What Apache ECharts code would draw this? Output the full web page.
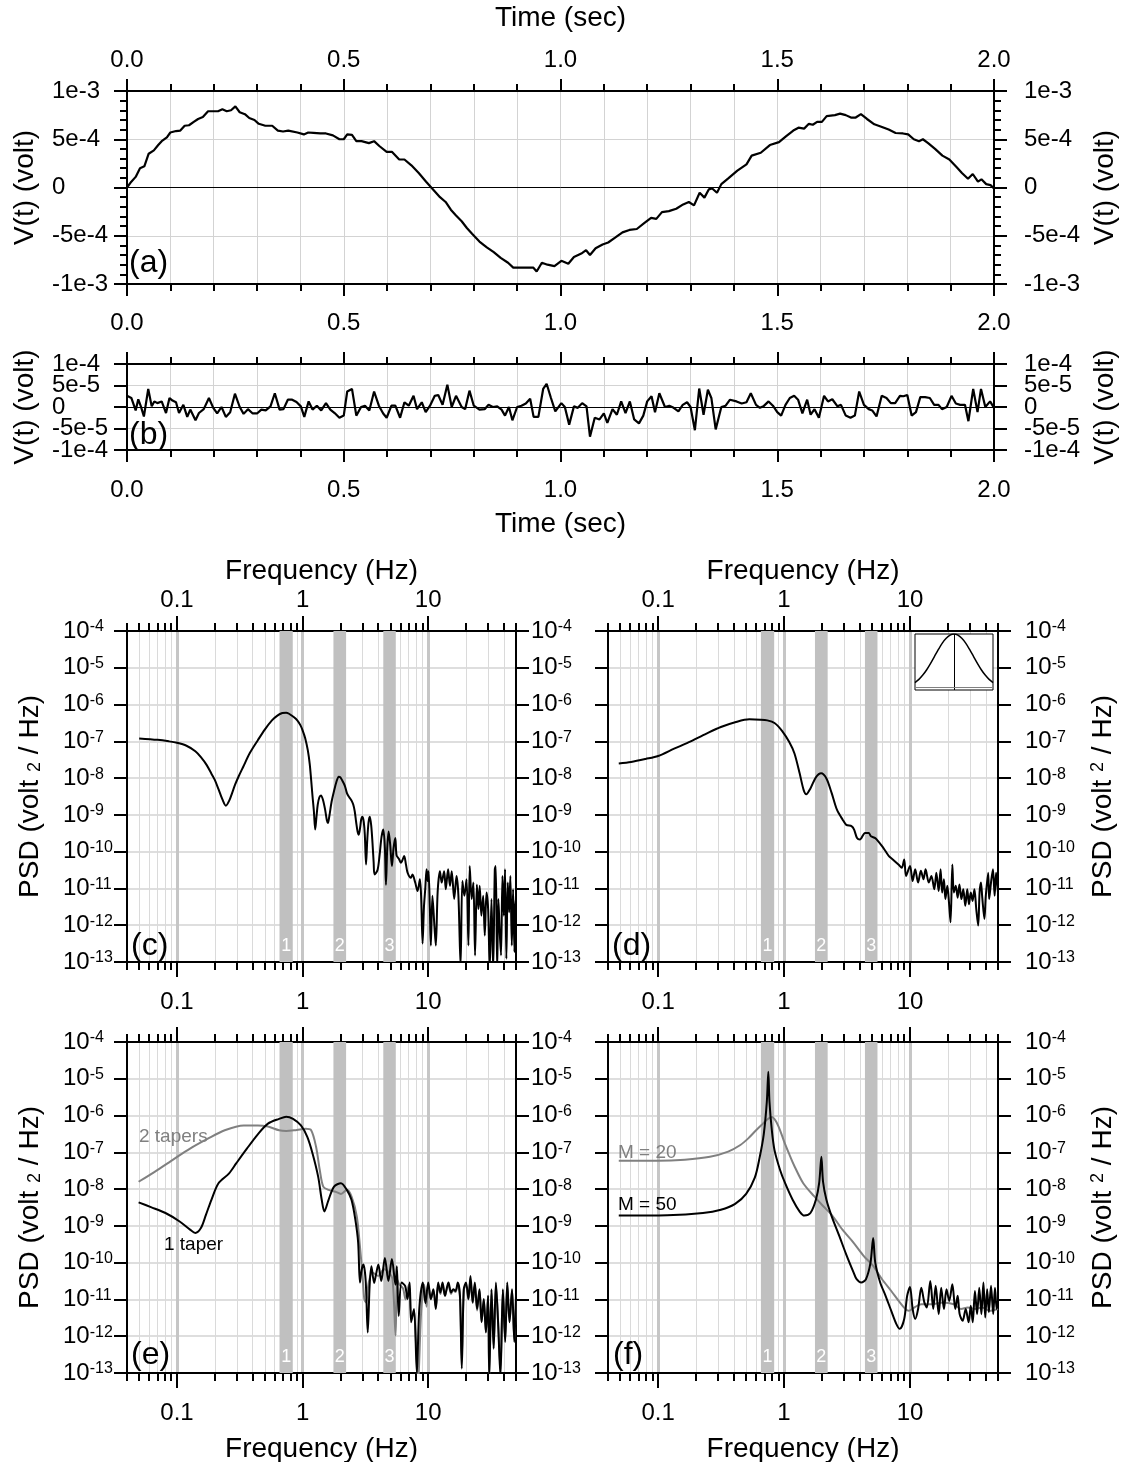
<!DOCTYPE html>
<html>
<head>
<meta charset="utf-8">
<script src="https://cdn.jsdelivr.net/npm/echarts@6/dist/echarts.min.js"></script>
<style>
  html, body { margin: 0; padding: 0; background: #fff; }
  #chart { width: 1122px; height: 1462px; }
</style>
</head>
<body>
<div id="chart"></div>
<script>
// ---------------------------------------------------------------
// Data
// ---------------------------------------------------------------

// (a) signal: [time s, voltage in units of 1e-4 V]
const V_UNIT = 1e-4;
const signalA = [
  [0,0],[0.01,0.6],[0.02,1.1],[0.03,2.0],[0.04,2.2],[0.05,3.5],[0.062,3.85],[0.072,4.4],[0.08,4.8],[0.092,5.2],
  [0.10,5.7],[0.113,5.85],[0.123,5.9],[0.133,6.4],[0.143,6.45],[0.154,6.8],[0.164,7.1],[0.175,7.3],[0.187,7.9],[0.2,7.9],
  [0.21,7.9],[0.22,8.1],[0.23,7.9],[0.24,8.0],[0.25,8.4],[0.26,7.8],[0.272,7.6],[0.282,7.2],[0.294,7.0],[0.304,6.6],
  [0.319,6.4],[0.335,6.4],[0.348,5.9],[0.36,5.8],[0.372,5.9],[0.393,5.7],[0.408,5.5],[0.418,5.7],[0.43,5.66],[0.446,5.6],
  [0.459,5.6],[0.475,5.4],[0.49,5.0],[0.5,5.0],[0.508,5.5],[0.519,5.45],[0.529,4.8],[0.541,4.8],[0.558,4.6],[0.57,4.8],
  [0.582,4.3],[0.599,3.7],[0.611,3.7],[0.628,2.9],[0.64,2.9],[0.656,2.3],[0.673,1.5],[0.69,0.6],[0.706,-0.2],[0.722,-1.0],
  [0.735,-1.5],[0.747,-2.3],[0.759,-2.9],[0.772,-3.5],[0.784,-4.2],[0.796,-4.8],[0.813,-5.6],[0.83,-6.2],[0.846,-6.7],[0.862,-7.3],
  [0.879,-7.8],[0.891,-8.3],[0.908,-8.3],[0.924,-8.3],[0.937,-8.3],[0.945,-8.7],[0.957,-7.8],[0.97,-8.0],[0.986,-8.15],[1.002,-7.6],
  [1.018,-7.9],[1.031,-7.2],[1.048,-6.85],[1.059,-6.5],[1.068,-7.0],[1.081,-6.3],[1.097,-5.9],[1.11,-5.7],[1.126,-5.2],[1.143,-4.65],
  [1.159,-4.4],[1.176,-4.3],[1.193,-3.7],[1.209,-3.15],[1.221,-3.25],[1.234,-2.55],[1.25,-2.45],[1.267,-2.2],[1.283,-1.75],[1.296,-1.5],
  [1.308,-1.85],[1.321,-0.55],[1.332,-1.05],[1.342,-0.2],[1.35,-0.1],[1.361,-0.55],[1.371,0.35],[1.387,0.95],[1.408,1.75],[1.429,2.4],
  [1.441,3.3],[1.462,3.6],[1.483,4.4],[1.504,4.7],[1.52,5.3],[1.537,5.9],[1.549,6.2],[1.562,6.1],[1.573,6.6],[1.582,6.5],
  [1.592,6.8],[1.603,6.8],[1.614,7.4],[1.633,7.5],[1.645,7.65],[1.658,7.5],[1.67,7.25],[1.681,7.25],[1.693,7.6],[1.707,7.1],
  [1.724,6.55],[1.74,6.3],[1.757,6.0],[1.773,5.65],[1.79,5.6],[1.802,5.5],[1.815,5.0],[1.827,4.8],[1.836,5.0],[1.848,4.6],
  [1.864,4.0],[1.881,3.3],[1.897,2.9],[1.914,2.1],[1.926,1.5],[1.94,0.9],[1.951,1.4],[1.963,0.6],[1.971,0.85],[1.982,0.35],
  [1.992,0.25],[2.0,-0.1]
];

// (b) noise: [time s, voltage in units of 1e-4 V]
const noiseB = [
  [0,0.26],[0.01,0.21],[0.014,0.17],[0.02,-0.08],[0.026,0.18],[0.032,0.015],[0.039,-0.22],[0.049,0.42],[0.057,0.015],[0.063,0.13],
  [0.07,0.09],[0.08,0.13],[0.09,-0.14],[0.098,0.21],[0.105,0.15],[0.113,0.11],[0.12,-0.14],[0.13,0.05],[0.139,-0.23],[0.146,-0.06],
  [0.158,-0.31],[0.166,-0.14],[0.177,-0.05],[0.189,0.21],[0.199,-0.02],[0.208,-0.15],[0.218,0],[0.228,-0.23],[0.238,-0.12],[0.249,0.31],
  [0.26,0],[0.269,-0.16],[0.279,-0.05],[0.29,-0.15],[0.3,-0.15],[0.31,-0.06],[0.32,-0.08],[0.331,0.015],[0.341,0.32],[0.352,-0.06],
  [0.361,-0.05],[0.371,0.17],[0.381,0.17],[0.391,0.115],[0.401,0.015],[0.409,-0.23],[0.419,0.13],[0.428,-0.06],[0.438,0.03],[0.448,-0.08],
  [0.459,0.09],[0.469,-0.06],[0.479,-0.14],[0.49,-0.25],[0.5,-0.2],[0.508,0.36],[0.519,0.42],[0.529,-0.2],[0.54,0],[0.549,0.03],
  [0.559,-0.08],[0.57,0.36],[0.581,0.03],[0.591,-0.15],[0.599,-0.25],[0.61,0.03],[0.619,0.03],[0.63,-0.25],[0.64,0.11],[0.65,0.03],
  [0.661,0.26],[0.669,-0.05],[0.68,0.11],[0.689,-0.12],[0.699,0.03],[0.71,0.26],[0.718,0.28],[0.728,0.05],[0.739,0.52],[0.749,0],
  [0.759,0.26],[0.772,0],[0.78,-0.05],[0.79,0.38],[0.8,0.03],[0.813,-0.06],[0.825,-0.05],[0.834,0.05],[0.844,0],[0.854,0.015],
  [0.864,-0.06],[0.872,-0.2],[0.881,0],[0.889,-0.31],[0.9,0],[0.91,0.03],[0.92,0.08],[0.93,0.19],[0.938,-0.23],[0.949,-0.23],
  [0.96,0.42],[0.968,0.54],[0.978,0.21],[0.988,-0.1],[1.002,0.09],[1.01,0],[1.02,-0.41],[1.031,0.015],[1.04,-0.02],[1.05,0.09],
  [1.06,0.015],[1.068,-0.69],[1.079,-0.25],[1.09,-0.29],[1.1,-0.15],[1.108,-0.37],[1.12,-0.05],[1.13,-0.18],[1.14,0.13],[1.15,-0.14],
  [1.16,0.13],[1.17,-0.29],[1.181,-0.38],[1.191,-0.2],[1.2,0.13],[1.21,0.25],[1.218,-0.12],[1.228,0.32],[1.241,0],[1.251,0.03],
  [1.261,-0.02],[1.272,-0.1],[1.282,0.05],[1.292,0.11],[1.3,0],[1.31,-0.54],[1.32,0.43],[1.33,-0.18],[1.34,0.4],[1.348,0.21],
  [1.358,-0.52],[1.371,0],[1.381,0.03],[1.391,0.17],[1.406,0.13],[1.418,0.08],[1.429,0.11],[1.439,0.32],[1.451,0.05],[1.46,-0.02],
  [1.468,0.015],[1.48,0.13],[1.49,0.03],[1.5,-0.12],[1.509,-0.2],[1.519,0.05],[1.529,0.21],[1.539,0.26],[1.548,0.17],[1.558,-0.15],
  [1.569,0.17],[1.577,-0.18],[1.586,-0.05],[1.596,-0.25],[1.608,0.26],[1.617,0.13],[1.627,0.18],[1.639,0.015],[1.647,0.05],[1.658,-0.2],
  [1.669,-0.25],[1.679,-0.2],[1.689,0.36],[1.7,0.05],[1.711,-0.05],[1.719,-0.08],[1.729,-0.22],[1.741,0.26],[1.752,0.21],[1.762,0.09],
  [1.772,0.09],[1.783,0.26],[1.791,0.25],[1.8,0.28],[1.81,-0.2],[1.82,-0.12],[1.83,0.23],[1.841,0.23],[1.852,0.21],[1.862,0.05],
  [1.872,0.05],[1.88,-0.05],[1.891,0],[1.902,0.26],[1.912,0.08],[1.922,0.05],[1.933,0.05],[1.941,-0.33],[1.952,0.42],[1.962,-0.12],
  [1.97,0.42],[1.98,0],[1.991,0.13],[2.0,-0.02]
];

// Power spectral densities: [frequency Hz, log10 PSD (volt^2/Hz)]
// (c) periodogram
const psdC = [
  [0.05,-6.92],[0.07,-6.96],[0.086,-7.0],[0.1,-7.04],[0.119,-7.12],[0.14,-7.27],[0.155,-7.43],[0.172,-7.64],[0.188,-7.88],[0.2,-8.05],
  [0.214,-8.30],[0.23,-8.58],[0.245,-8.75],[0.26,-8.62],[0.275,-8.40],[0.29,-8.18],[0.31,-7.95],[0.337,-7.69],[0.38,-7.32],[0.44,-6.97],
  [0.5,-6.68],[0.57,-6.43],[0.63,-6.30],[0.69,-6.23],[0.74,-6.22],[0.78,-6.25],[0.85,-6.34],[0.907,-6.43],[0.96,-6.56],[1.0,-6.70],
  [1.05,-6.92],[1.1,-7.24],[1.14,-7.62],[1.17,-8.05],[1.2,-8.50],[1.23,-8.90],[1.26,-9.40],[1.29,-9.05],[1.32,-8.72],[1.36,-8.52],
  [1.40,-8.47],[1.45,-8.58],[1.51,-8.85],[1.56,-9.15],[1.59,-9.22],[1.63,-9.05],[1.7,-8.65],[1.78,-8.35],[1.86,-8.10],[1.94,-7.96],
  [2.0,-7.98],[2.08,-8.08],[2.17,-8.21],[2.25,-8.40],[2.33,-8.50],[2.4,-8.56],[2.46,-8.62],[2.53,-8.72],[2.6,-8.90],[2.67,-9.20],
  [2.74,-9.45],[2.8,-9.54],[2.87,-9.35],[2.93,-9.12],[3.0,-9.05],[3.07,-9.2],[3.13,-9.55],[3.2,-10.35],[3.27,-9.7],[3.35,-9.2],
  [3.43,-9.05],[3.52,-9.3],[3.6,-9.75],[3.68,-10.3],[3.74,-10.62],[3.95,-10.5],[4.1,-10.1],[4.25,-9.6],[4.39,-9.40],[4.52,-9.9],
  [4.61,-10.9],[4.72,-9.9],[4.84,-9.45],[4.98,-9.8],[5.14,-10.39],[5.3,-9.9],[5.47,-9.63],[5.6,-10.1],[5.88,-10.21],[6.05,-10.3],
  [6.18,-10.26],[6.44,-10.12],[6.65,-10.35],[6.85,-10.57],[7.28,-10.71],[7.5,-10.62],[7.88,-10.84],[8.23,-11.07],[8.59,-10.75],[8.8,-11.3],
  [9.02,-12.50],[9.25,-11.5],[9.47,-11.02],[9.70,-10.48],[9.9,-10.8],[10.06,-10.53],[10.3,-11.5],[10.5,-12.55],[10.8,-11.20],[11.2,-12.01],
  [11.5,-12.55],[11.9,-11.07],[12.4,-10.53],[12.8,-10.84],[13.4,-10.53],[13.8,-11.02],[14.4,-10.48],[14.9,-10.93],[15.4,-10.53],[16.1,-11.29],
  [16.8,-10.66],[17.4,-11.20],[18.1,-13.1],[18.7,-10.80],[19.4,-11.20],[20.2,-10.75],[20.9,-12.55],[21.4,-10.39],[22.2,-11.29],[22.9,-10.84],
  [23.6,-12.82],[24.4,-10.89],[25.1,-11.56],[25.7,-10.93],[26.5,-11.74],[27.4,-11.20],[28.2,-12.28],[29.1,-11.11],[30.0,-11.56],[30.9,-13.2],
  [31.9,-11.29],[32.9,-13.2],[33.9,-10.48],[34.5,-10.39],[35.4,-13.2],[36.2,-11.29],[37.1,-12.19],[38.0,-12.82],[39.0,-10.66],[40.0,-11.74],
  [40.9,-10.48],[41.9,-12.91],[43.0,-10.84],[44.1,-11.65],[45.1,-10.66],[46.3,-12.55],[47.4,-11.02],[48.6,-12.73],[49.2,-11.56],[50,-11.3]
];

// (d) tapered periodogram
const psdD = [
  [0.0487,-7.60],[0.061,-7.56],[0.0796,-7.48],[0.1,-7.40],[0.134,-7.20],[0.174,-7.03],[0.242,-6.79],[0.315,-6.61],[0.409,-6.48],[0.53,-6.40],
  [0.65,-6.41],[0.736,-6.43],[0.84,-6.50],[0.967,-6.72],[1.10,-7.02],[1.21,-7.33],[1.33,-7.87],[1.43,-8.32],[1.50,-8.44],[1.62,-8.28],
  [1.79,-7.98],[1.97,-7.87],[2.17,-8.01],[2.39,-8.41],[2.63,-8.86],[2.92,-9.13],[3.12,-9.27],[3.45,-9.31],[3.6,-9.40],[3.8,-9.63],
  [4.0,-9.67],[4.4,-9.49],[4.7,-9.49],[4.9,-9.58],[5.3,-9.63],[5.6,-9.72],[6.0,-9.85],[6.4,-9.99],[6.8,-10.12],[7.3,-10.21],
  [8.1,-10.35],[8.6,-10.44],[9.0,-10.21],[9.3,-10.66],[10,-10.39],[10.5,-10.80],[11.0,-10.48],[11.6,-10.84],[12.2,-10.52],[12.8,-10.75],
  [13.3,-10.48],[14.1,-10.84],[14.8,-10.66],[15.6,-11.02],[16.2,-10.57],[16.9,-11.07],[17.5,-10.48],[18.0,-11.11],[18.6,-10.75],[19.1,-11.29],
  [19.8,-10.93],[20.4,-11.38],[21.0,-11.92],[21.7,-10.35],[22.3,-11.11],[23.1,-10.93],[23.9,-11.25],[24.7,-10.89],[25.6,-11.29],[26.5,-11.02],
  [27.5,-11.47],[28.5,-11.02],[29.4,-11.43],[30.4,-11.11],[31.4,-11.34],[32.5,-11.02],[33.6,-11.56],[34.8,-12.01],[35.7,-11.11],[36.6,-10.84],
  [37.5,-11.25],[39.0,-11.83],[40.0,-11.20],[41.8,-10.57],[42.5,-11.29],[44.0,-10.84],[45.6,-10.48],[47.0,-11.20],[48.3,-10.57],[50,-11.11]
];

// (e) multitaper estimates: 1 taper (black) and 2 tapers (grey)
const psdE1 = [
  [0.0495,-8.36],[0.062,-8.49],[0.081,-8.65],[0.105,-8.88],[0.127,-9.10],[0.14,-9.19],[0.155,-9.06],[0.17,-8.70],[0.188,-8.29],[0.214,-7.84],
  [0.26,-7.57],[0.296,-7.30],[0.36,-6.90],[0.44,-6.51],[0.53,-6.22],[0.65,-6.09],[0.74,-6.03],[0.84,-6.09],[0.97,-6.27],[1.09,-6.58],
  [1.2,-7.03],[1.33,-7.66],[1.42,-8.29],[1.49,-8.61],[1.61,-8.29],[1.78,-7.93],[2.02,-7.84],[2.25,-8.02],[2.45,-8.29],[2.63,-8.83],
  [2.77,-9.46],[2.86,-10.54],[2.95,-10.2],[3.05,-10.05],[3.18,-10.5],[3.30,-11.9],[3.42,-10.6],[3.53,-10.1],[3.71,-10.55],[3.85,-10.3],
  [4.01,-10.05],[4.23,-10.5],[4.52,-9.87],[4.82,-10.5],[5.14,-9.9],[5.49,-10.6],[5.63,-10.1],[5.82,-11.45],[6.13,-10.54],[6.55,-10.63],
  [6.85,-10.99],[7.12,-10.54],[7.31,-11.62],[7.71,-11.26],[8.12,-13.0],[8.49,-11.26],[9.07,-10.54],[9.5,-11.1],[10,-10.54],[10.5,-10.99],
  [11.0,-10.72],[11.5,-11.26],[12.0,-10.54],[12.5,-10.81],[13.0,-10.54],[13.6,-10.90],[14.0,-10.72],[14.5,-10.54],[15.2,-10.81],[15.8,-10.72],
  [16.5,-10.77],[17.2,-10.54],[17.9,-10.90],[18.5,-12.88],[19.2,-10.72],[20.0,-10.54],[20.9,-10.99],[21.7,-10.36],[22.6,-11.08],[23.5,-10.54],
  [24.5,-11.26],[25.6,-10.72],[26.6,-11.62],[27.7,-10.99],[28.8,-11.89],[30,-10.90],[30.6,-13.1],[31.9,-10.72],[33.2,-12.34],[34.6,-10.54],
  [36.0,-11.62],[37.6,-13.1],[39.3,-10.72],[41,-12.16],[42.6,-10.54],[44.4,-11.62],[46.5,-10.72],[48.5,-12.16],[50,-10.9]
];
const psdE2 = [
  [0.0495,-7.80],[0.0664,-7.53],[0.092,-7.21],[0.127,-6.90],[0.176,-6.63],[0.24,-6.40],[0.34,-6.27],[0.44,-6.27],[0.53,-6.30],[0.65,-6.40],
  [0.74,-6.42],[0.9,-6.39],[1.06,-6.36],[1.17,-6.40],[1.28,-6.85],[1.37,-7.48],[1.46,-7.93],[1.61,-8.02],[1.83,-8.07],[2.02,-8.13],
  [2.25,-8.02],[2.45,-8.20],[2.7,-8.74],[2.86,-9.55],[3.0,-10.36],[3.1,-10.99],[3.2,-11.08],[3.36,-10.54],[3.6,-10.27],[4.0,-10.36],
  [4.45,-10.18],[4.87,-10.27],[5.2,-10.45],[5.5,-11.98],[5.65,-10.45],[5.9,-10.6],[6.3,-10.7],[6.6,-11.0],[7.0,-10.6],[7.4,-11.5],
  [7.7,-11.3],[7.97,-12.1],[8.3,-13.2],[8.8,-11.3],[9.3,-10.6],[9.7,-11.2],[10,-10.6],[10.5,-11.0],[11.0,-10.75],[11.5,-11.2],
  [12.0,-10.6],[12.5,-10.85],[13.0,-10.6],[13.6,-10.9],[14.0,-10.75],[14.5,-10.6],[15.2,-10.85],[15.8,-10.75],[16.5,-10.8],[17.2,-10.6],
  [17.9,-10.95],[18.5,-12.6],[19.2,-10.75],[20.0,-10.6],[20.9,-11.0],[21.7,-10.45],[22.6,-11.1],[23.5,-10.6],[24.5,-11.3],[25.6,-10.75],
  [26.6,-11.6],[27.7,-11.0],[28.8,-11.9],[30,-10.9],[30.6,-13.2],[31.9,-10.75],[33.2,-12.3],[34.6,-10.6],[36.0,-11.6],[37.6,-12.9],
  [39.3,-10.75],[41,-12.1],[42.6,-10.6],[44.4,-11.6],[46.5,-10.75],[48.5,-12.1],[50,-11.0]
];

// (f) autoregressive estimates of order M = 20 (grey) and M = 50 (black)
const psdF20 = [
  [0.0487,-7.23],[0.1,-7.23],[0.163,-7.20],[0.258,-7.12],[0.36,-6.98],[0.45,-6.80],[0.52,-6.62],[0.6,-6.40],[0.68,-6.22],[0.74,-6.10],
  [0.8,-6.04],[0.86,-6.15],[0.93,-6.40],[1.0,-6.70],[1.1,-7.05],[1.2,-7.35],[1.42,-7.84],[1.74,-8.20],[2.04,-8.46],[2.39,-8.70],
  [2.92,-9.11],[3.57,-9.46],[4.3,-9.82],[5.1,-10.09],[6.0,-10.45],[7.1,-10.77],[8.3,-11.08],[9.2,-11.26],[9.8,-11.31],[10.8,-11.22],
  [12.3,-11.13],[15.0,-11.13],[18.3,-11.08],[22.3,-11.13],[25.4,-11.26],[28.8,-11.22],[32.8,-11.26],[37.4,-11.22],[42.6,-11.31],[50,-11.26]
];
const psdF50 = [
  [0.0487,-8.72],[0.118,-8.71],[0.227,-8.65],[0.315,-8.56],[0.409,-8.40],[0.5,-8.13],[0.587,-7.68],[0.64,-7.14],[0.69,-6.51],[0.73,-5.62],
  [0.75,-4.81],[0.766,-5.62],[0.8,-6.40],[0.84,-6.94],[0.93,-7.48],[1.02,-7.84],[1.17,-8.29],[1.33,-8.61],[1.45,-8.72],[1.62,-8.65],
  [1.79,-8.29],[1.9,-7.84],[1.98,-7.12],[2.04,-7.80],[2.17,-8.29],[2.39,-8.74],[2.75,-9.28],[3.12,-9.78],[3.57,-10.27],[3.77,-10.45],
  [4.1,-10.54],[4.47,-10.45],[4.86,-10.00],[5.1,-9.33],[5.3,-10.00],[5.8,-10.54],[6.4,-10.90],[7.1,-11.31],[7.8,-11.67],[8.3,-11.80],
  [9.0,-11.53],[9.5,-10.90],[10.0,-10.66],[10.5,-11.26],[11.0,-11.53],[11.6,-11.26],[12.3,-10.68],[13.0,-11.08],[13.6,-11.22],[14.5,-10.50],
  [15.3,-11.26],[16.0,-10.63],[16.9,-11.40],[17.7,-10.68],[18.6,-11.26],[19.5,-10.72],[20.5,-11.04],[21.7,-10.59],[22.9,-11.26],[23.9,-10.90],
  [24.8,-11.40],[26.2,-11.58],[27.7,-11.26],[29.2,-11.62],[30.4,-11.17],[31.5,-11.62],[32.8,-10.77],[34.1,-11.40],[35.5,-10.68],[36.9,-11.40],
  [38.3,-10.54],[39.6,-11.49],[41.0,-10.72],[42.3,-11.35],[44.0,-10.63],[45.8,-11.40],[47.3,-10.68],[48.8,-11.26],[50,-11.04]
];

// Taper window shown in the inset of (d): [normalised time, weight]
const taperX = [0,0.05,0.1,0.15,0.2,0.25,0.3,0.35,0.4,0.45,0.5,0.55,0.6,0.65,0.7,0.75,0.8,0.85,0.9,0.95,1];
const taperW = [0.09,0.15,0.23,0.33,0.45,0.58,0.71,0.83,0.92,0.98,1.0,0.98,0.92,0.83,0.71,0.58,0.45,0.33,0.23,0.15,0.09];

// Highlighted frequency bands [from Hz, to Hz, tag]
const bands = [[0.655,0.835,'1'],[1.76,2.22,'2'],[4.39,5.52,'3']];

// Axis ticks
const F_MIN = 0.04, F_MAX = 50;
const freqDecades = [0.1, 1, 10];
const freqDecadeLabels = ['0.1', '1', '10'];
const freqMinor = [0.04,0.05,0.06,0.07,0.08,0.09,0.2,0.3,0.4,0.5,0.6,0.7,0.8,0.9,2,3,4,5,6,7,8,9,20,30,40,50];
// voltage tick labels, split into two interleaved sets so tightly packed labels all stay visible
const voltTicksA = [-1e-3, 0, 1e-3];
const voltTicksAHalf = [-5e-4, 5e-4];
const voltTicksB = [-1e-4, 0, 1e-4];
const voltTicksBHalf = [-5e-5, 5e-5];

// ---------------------------------------------------------------
// Styling helpers
// ---------------------------------------------------------------
const FONT = "'Liberation Sans', Arial, Helvetica, sans-serif";
const GREY = '#808080';
const GRID_T = '#d3d3d3';
const GRID_MINOR = '#dadada';
const GRID_MAJOR = '#c6c6c6';
const GRID_H = '#d3d3d3';
const BAND = '#c0c0c0';

const AXIS_LINE = { show: true, onZero: false, lineStyle: { color: '#000', width: 2 } };
const TICK = { color: '#000', width: 2 };
const LABEL = { color: '#000', fontFamily: FONT, fontSize: 24, hideOverlap: false,
  showMinLabel: true, showMaxLabel: true };
const NAME = { color: '#000', fontFamily: FONT, fontSize: 28 };

function sciLabel(v) {
  if (Math.abs(v) < 1e-12) return '0';
  return Number(v.toPrecision(3)).toExponential();
}
function powLabel(v) {
  const e = Math.round(Math.log10(v));
  return '{b|10}{s|' + e + '}';
}
const POW_RICH = {
  b: { fontFamily: FONT, fontSize: 24, color: '#000' },
  s: { fontFamily: FONT, fontSize: 16, color: '#000', verticalAlign: 'top' }
};
function psdName(supAlign) {
  return {
    text: '{a|PSD (volt }{s|2}{a| / Hz)}',
    style: {
      color: '#000', fontFamily: FONT, fontSize: 28,
      rich: {
        a: { fontFamily: FONT, fontSize: 28, color: '#000' },
        s: { fontFamily: FONT, fontSize: 18, color: '#000', verticalAlign: supAlign }
      }
    }
  };
}

const grids = [], xAxes = [], yAxes = [], series = [];
function addGrid(g) {
  grids.push(Object.assign({ show: false, containLabel: false, outerBoundsMode: 'none' }, g));
  return grids.length - 1;
}

// Time-domain panel: value axes on all four sides
function timePanel(gridIndex, o) {
  let xMain = null;
  ['bottom', 'top'].forEach(pos => {
    xAxes.push({
      type: 'value', gridIndex, position: pos, min: 0, max: 2, interval: 0.5,
      axisLine: AXIS_LINE,
      axisTick: { show: true, length: 12, lineStyle: TICK },
      minorTick: { show: true, splitNumber: 5, length: 7, lineStyle: TICK },
      axisLabel: Object.assign({}, LABEL, {
        show: !!o[pos + 'Labels'], margin: o[pos + 'Margin'] || 20,
        formatter: v => v.toFixed(1)
      }),
      splitLine: { show: pos === 'bottom', lineStyle: { color: GRID_T, width: 1 } },
      minorSplitLine: { show: pos === 'bottom', lineStyle: { color: GRID_T, width: 1 } },
      name: o[pos + 'Name'] || '', nameLocation: 'middle', nameGap: o[pos + 'NameGap'] || 60,
      nameTextStyle: NAME
    });
    if (pos === 'bottom') xMain = xAxes.length - 1;
  });
  let yMain = null;
  ['left', 'right'].forEach(pos => {
    const margin = pos === 'left' ? 75 : 30;
    yAxes.push({
      type: 'value', gridIndex, position: pos, min: o.yMin, max: o.yMax, interval: o.yInterval,
      axisLine: AXIS_LINE,
      axisTick: { show: true, length: 13, lineStyle: TICK },
      minorTick: { show: !!o.yMinor, splitNumber: 5, length: 7, lineStyle: TICK },
      axisLabel: Object.assign({}, LABEL, {
        align: 'left', margin, formatter: sciLabel, customValues: o.yTicks
      }),
      splitLine: { show: pos === 'left', lineStyle: { color: GRID_T, width: 1 } },
      name: 'V(t) (volt)', nameLocation: 'middle', nameGap: pos === 'left' ? 88 : 87,
      nameTextStyle: NAME
    });
    if (pos === 'left') yMain = yAxes.length - 1;
    // companion axis carrying the intermediate labels
    yAxes.push({
      type: 'value', gridIndex, position: pos, min: o.yMin, max: o.yMax, interval: o.yInterval,
      axisLine: { show: false }, axisTick: { show: false }, splitLine: { show: false },
      axisLabel: Object.assign({}, LABEL, {
        align: 'left', margin, formatter: sciLabel, customValues: o.yTicksHalf
      })
    });
  });
  return { x: xMain, y: yMain };
}

// Spectrum panel: log axes carry the data, value axes in log10 units draw the ticks
function psdPanel(gridIndex, o) {
  const lg = Math.log10;
  const lo = lg(F_MIN), hi = lg(F_MAX);
  xAxes.push({ type: 'log', gridIndex, logBase: 10, min: F_MIN, max: F_MAX, show: false });
  const xData = xAxes.length - 1;
  ['bottom', 'top'].forEach(pos => {
    xAxes.push({
      type: 'value', gridIndex, position: pos, min: lo, max: hi,
      axisLine: AXIS_LINE,
      axisTick: { show: true, customValues: freqDecades.map(lg), length: 15, lineStyle: TICK },
      axisLabel: Object.assign({}, LABEL, {
        show: !!o[pos + 'Labels'], customValues: freqDecades.map(lg),
        margin: pos === 'top' ? 19 : 28,
        formatter: v => freqDecadeLabels[Math.round(v) + 1] || ''
      }),
      splitLine: { show: pos === 'bottom', lineStyle: { color: GRID_MAJOR, width: 3 } },
      name: o[pos + 'Name'] ? 'Frequency (Hz)' : '', nameLocation: 'middle',
      nameGap: pos === 'top' ? 46 : 62, nameTextStyle: NAME
    });
    xAxes.push({
      type: 'value', gridIndex, position: pos, min: lo, max: hi,
      axisLine: { show: false },
      axisTick: { show: true, customValues: freqMinor.map(lg), length: 8, lineStyle: TICK },
      axisLabel: { show: false },
      splitLine: { show: pos === 'bottom', lineStyle: { color: GRID_MINOR, width: 1 } }
    });
  });
  let yData = null;
  ['left', 'right'].forEach(pos => {
    const nm = o[pos + 'Name'] ? psdName(pos === 'left' ? 'bottom' : 'top') : null;
    yAxes.push({
      type: 'log', gridIndex, position: pos, logBase: 10, min: 1e-13, max: 1e-4,
      axisLine: AXIS_LINE,
      axisTick: { show: true, length: 13, lineStyle: TICK },
      axisLabel: {
        show: !!o[pos + 'Labels'], align: 'left', margin: o[pos + 'Margin'] || 20,
        formatter: powLabel, rich: POW_RICH, hideOverlap: false,
        showMinLabel: true, showMaxLabel: true
      },
      splitLine: { show: pos === 'left', lineStyle: { color: GRID_H, width: 1.5 } },
      name: nm ? nm.text : '', nameLocation: 'middle', nameGap: pos === 'left' ? 83 : 91,
      nameTextStyle: nm ? nm.style : NAME
    });
    if (pos === 'left') yData = yAxes.length - 1;
  });
  return { x: xData, y: yData };
}

const toPsd = arr => arr.map(([f, e]) => [f, Math.pow(10, e)]);
const bandArea = {
  silent: true,
  itemStyle: { color: BAND, opacity: 1 },
  label: { show: true, position: 'insideBottom', distance: 7, color: '#fff', fontFamily: FONT, fontSize: 18 },
  data: bands.map(([a, b, tag]) => [{ xAxis: a, name: tag }, { xAxis: b }])
};
const zeroLine = {
  silent: true, symbol: ['none', 'none'], label: { show: false },
  lineStyle: { color: '#000', width: 1, type: 'solid' },
  data: [{ yAxis: 0 }]
};
function psdLine(ax, data, color, withBands) {
  const s = {
    type: 'line', xAxisIndex: ax.x, yAxisIndex: ax.y, data: toPsd(data),
    showSymbol: false, smooth: 0.3, clip: true, silent: true, z: 3,
    lineStyle: { color, width: 2 }
  };
  if (withBands) s.markArea = bandArea;
  return s;
}

// ---------------------------------------------------------------
// Layout
// ---------------------------------------------------------------
const gA = addGrid({ left: 127, top: 91, width: 867, height: 193 });
const gB = addGrid({ left: 127, top: 364, width: 867, height: 86 });
const gC = addGrid({ left: 127, top: 631, width: 389, height: 331 });
const gD = addGrid({ left: 608, top: 631, width: 390, height: 331 });
const gE = addGrid({ left: 127, top: 1042, width: 389, height: 331 });
const gF = addGrid({ left: 608, top: 1042, width: 390, height: 331 });
const gInset = addGrid({ left: 915, top: 634, width: 78, height: 56, show: true,
  backgroundColor: '#fff', borderColor: '#000', borderWidth: 1, z: 5 });

const axA = timePanel(gA, { yMin: -1e-3, yMax: 1e-3, yInterval: 5e-4, yMinor: true,
  yTicks: voltTicksA, yTicksHalf: voltTicksAHalf,
  topLabels: true, topMargin: 19, topName: 'Time (sec)', topNameGap: 59,
  bottomLabels: true, bottomMargin: 27 });
const axB = timePanel(gB, { yMin: -1e-4, yMax: 1e-4, yInterval: 5e-5, yMinor: false,
  yTicks: voltTicksB, yTicksHalf: voltTicksBHalf,
  bottomLabels: true, bottomMargin: 28, bottomName: 'Time (sec)', bottomNameGap: 60 });

const axC = psdPanel(gC, { topLabels: true, topName: true, bottomLabels: true,
  leftLabels: true, leftMargin: 64, leftName: true, rightLabels: true, rightMargin: 15 });
const axD = psdPanel(gD, { topLabels: true, topName: true, bottomLabels: true,
  rightLabels: true, rightMargin: 27, rightName: true });
const axE = psdPanel(gE, { bottomLabels: true, bottomName: true,
  leftLabels: true, leftMargin: 64, leftName: true, rightLabels: true, rightMargin: 15 });
const axF = psdPanel(gF, { bottomLabels: true, bottomName: true,
  rightLabels: true, rightMargin: 27, rightName: true });

// inset axes
xAxes.push({ type: 'value', gridIndex: gInset, min: 0, max: 1, show: false });
const xInset = xAxes.length - 1;
yAxes.push({ type: 'value', gridIndex: gInset, min: -0.05, max: 1, show: false });
const yInset = yAxes.length - 1;

// ---------------------------------------------------------------
// Series
// ---------------------------------------------------------------
series.push({
  type: 'line', xAxisIndex: axA.x, yAxisIndex: axA.y, silent: true, z: 3,
  data: signalA.map(([t, v]) => [t, v * V_UNIT]), showSymbol: false,
  lineStyle: { color: '#000', width: 2.2 }, markLine: zeroLine
});
series.push({
  type: 'line', xAxisIndex: axB.x, yAxisIndex: axB.y, silent: true, z: 3,
  data: noiseB.map(([t, v]) => [t, v * V_UNIT]), showSymbol: false,
  lineStyle: { color: '#000', width: 2.2 }, markLine: zeroLine
});
series.push(psdLine(axC, psdC, '#000', true));
series.push(psdLine(axD, psdD, '#000', true));
series.push(psdLine(axE, psdE2, GREY, true));
series.push(psdLine(axE, psdE1, '#000', false));
series.push(psdLine(axF, psdF20, GREY, true));
series.push(psdLine(axF, psdF50, '#000', false));
series.push({
  type: 'line', xAxisIndex: xInset, yAxisIndex: yInset, silent: true, z: 6, zlevel: 0,
  data: taperX.map((x, i) => [x, taperW[i]]), showSymbol: false, smooth: 0.3,
  lineStyle: { color: '#000', width: 1.5 },
  markLine: {
    silent: true, symbol: ['none', 'none'], label: { show: false },
    data: [
      { xAxis: 0.5, lineStyle: { color: '#000', width: 1, type: 'solid' } },
      { yAxis: 0, lineStyle: { color: GREY, width: 1, type: 'solid' } }
    ]
  }
});

// ---------------------------------------------------------------
// Text annotations
// ---------------------------------------------------------------
function tag(text, x, y, size, color) {
  return {
    type: 'text', x, y, z: 100, silent: true,
    style: {
      text, fill: color, font: size + 'px ' + FONT,
      align: 'left', verticalAlign: 'middle', textAlign: 'left', textVerticalAlign: 'middle'
    }
  };
}
const graphic = [
  tag('(a)', 129, 263, 32, '#000'),
  tag('(b)', 129, 435, 32, '#000'),
  tag('(c)', 131, 946, 32, '#000'),
  tag('(d)', 612, 946, 32, '#000'),
  tag('(e)', 131, 1355, 32, '#000'),
  tag('(f)', 613, 1355, 32, '#000'),
  tag('2 tapers', 139, 1137, 19, GREY),
  tag('1 taper', 164, 1245, 19, '#000'),
  tag('M = 20', 618, 1153, 19, GREY),
  tag('M = 50', 618, 1205, 19, '#000')
];

const chart = echarts.init(document.getElementById('chart'), null, { renderer: 'canvas' });
chart.setOption({
  backgroundColor: '#fff',
  animation: false,
  textStyle: { fontFamily: FONT, color: '#000' },
  grid: grids,
  xAxis: xAxes,
  yAxis: yAxes,
  series,
  graphic
});
</script>
</body>
</html>
